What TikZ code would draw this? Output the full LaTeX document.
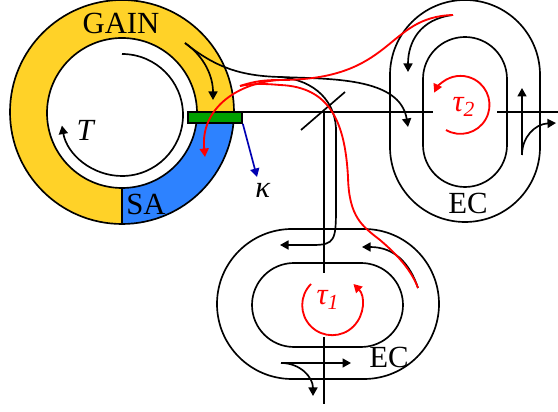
\documentclass[tikz,border=0pt]{standalone}
\usepackage{fontspec}
\setmainfont{Liberation Serif}
\usetikzlibrary{arrows.meta}
\definecolor{gainyellow}{RGB}{255,210,40}
\definecolor{sablue}{RGB}{45,130,255}
\definecolor{coupgreen}{RGB}{0,160,0}
\tikzset{>={Triangle[length=1.7mm,width=1.8mm]},
  wire/.style={line width=.95pt,color=black},
  redwire/.style={line width=1.05pt,color=red},
  label/.style={inner sep=0pt,font=\fontsize{17.5}{20}\selectfont},
}
\begin{document}
\begin{tikzpicture}[x=.02cm,y=.02cm]
\useasboundingbox (0,0) rectangle (558,412);
% ring laser
\fill[gainyellow] (122,300) circle (112);
\fill[sablue] (122,188) arc[start angle=270,end angle=360,radius=112] -- (197,299) arc[start angle=0,end angle=-90,radius=75] -- cycle;
\draw[wire] (122,300) circle (112);
\draw[wire,fill=white] (122,299) circle (75);
\draw[wire] (122,188) -- (122,224);
\draw[wire,->] (122,358) arc[start angle=90,end angle=-170,radius=61];
\node[label] (gain) at (121,389) {GAIN};
\node[label] (sa) at (146,208) {SA};
\node[label] (torque) at (86,282) {\textit{T}};
\node[label] (kappa) at (263,222) {\textit{κ}};
% couplers and external cavities
\draw[wire,rounded corners=1.5cm] (390,190) rectangle (540,412);
\draw[wire,rounded corners=.84cm] (423,225) rectangle (507,375);
\draw[wire,rounded corners=1.5cm] (217,33) rectangle (439,183);
\draw[wire,rounded corners=.84cm] (252,65) rectangle (403,149);
\node[label] (ectop) at (468,209) {EC};
\node[label] (ecbot) at (389,55) {EC};
\coordinate (split) at (324,300);
\coordinate (gainout) at (185,369);
\coordinate (fork) at (280,335);
\coordinate (redstart) at (240,326);
\coordinate (redfork) at (280,332);
\coordinate (redtop) at (453,397);
\coordinate (redbot) at (418,124);
\draw[wire] (242,300) -- (433,300);
\draw[wire] (497,300) -- (558,300);
\draw[wire] (301,282) -- (345,320);
\draw[wire] (split) -- (324,139);
\draw[wire] (324,75) -- (324,8);
\node[draw=black,fill=coupgreen,line width=.95pt,inner sep=0pt,minimum width=1.08cm,minimum height=.22cm] (coupler) at (215,294.5) {};
\draw[line width=.95pt,color=blue!70!black,->] (coupler.south east) -- (257,235);
% feedback paths
\draw[wire,->] (gainout) .. controls (205,355) and (213,335) .. (213,312);
\draw[wire] (gainout) .. controls (215,345) and (240,336) .. (fork);
\draw[wire,->] (fork) .. controls (330,333) and (400,335) .. (408,285);
\draw[wire,->] (fork) .. controls (315,332) and (337,310) .. (336,279) -- (336,205) .. controls (336,172) and (335,167) .. (313,167) -- (280,167);
\draw[wire,->] (redtop) .. controls (420,393) and (408,370) .. (408,340);
\draw[wire,->] (redbot) .. controls (410,148) and (395,165) .. (362,165);
\draw[wire,->] (522,257) -- (522,324);
\draw[wire,->] (522,257) .. controls (522,275) and (535,288) .. (556,289);
\draw[wire,->] (281,49) -- (351,49);
\draw[wire,->] (281,49) .. controls (300,49) and (313,35) .. (313,16);
% red light
\draw[redwire,->] (redfork) .. controls (240,330) and (200,305) .. (205,255);
\draw[redwire] (redstart) .. controls (255,331) and (265,332) .. (redfork) .. controls (395,332) and (385,395) .. (redtop);
\draw[redwire] (redstart) .. controls (255,329) and (268,328) .. (280,327) .. controls (330,325) and (345,290) .. (348,235) .. controls (349,195) and (362,186) .. (380,172) .. controls (400,155) and (412,140) .. (redbot);
\draw[redwire,->] (446,282) arc[start angle=-120,end angle=155,radius=29];
\draw[redwire,->] (311,128) arc[start angle=135,end angle=405,radius=30];
\node[label,text=red] (tautop) at (464,305) {\textit{τ\textsubscript{2}}};
\node[label,text=red] (taubot) at (328,112) {\textit{τ\textsubscript{1}}};
\end{tikzpicture}
\end{document}
